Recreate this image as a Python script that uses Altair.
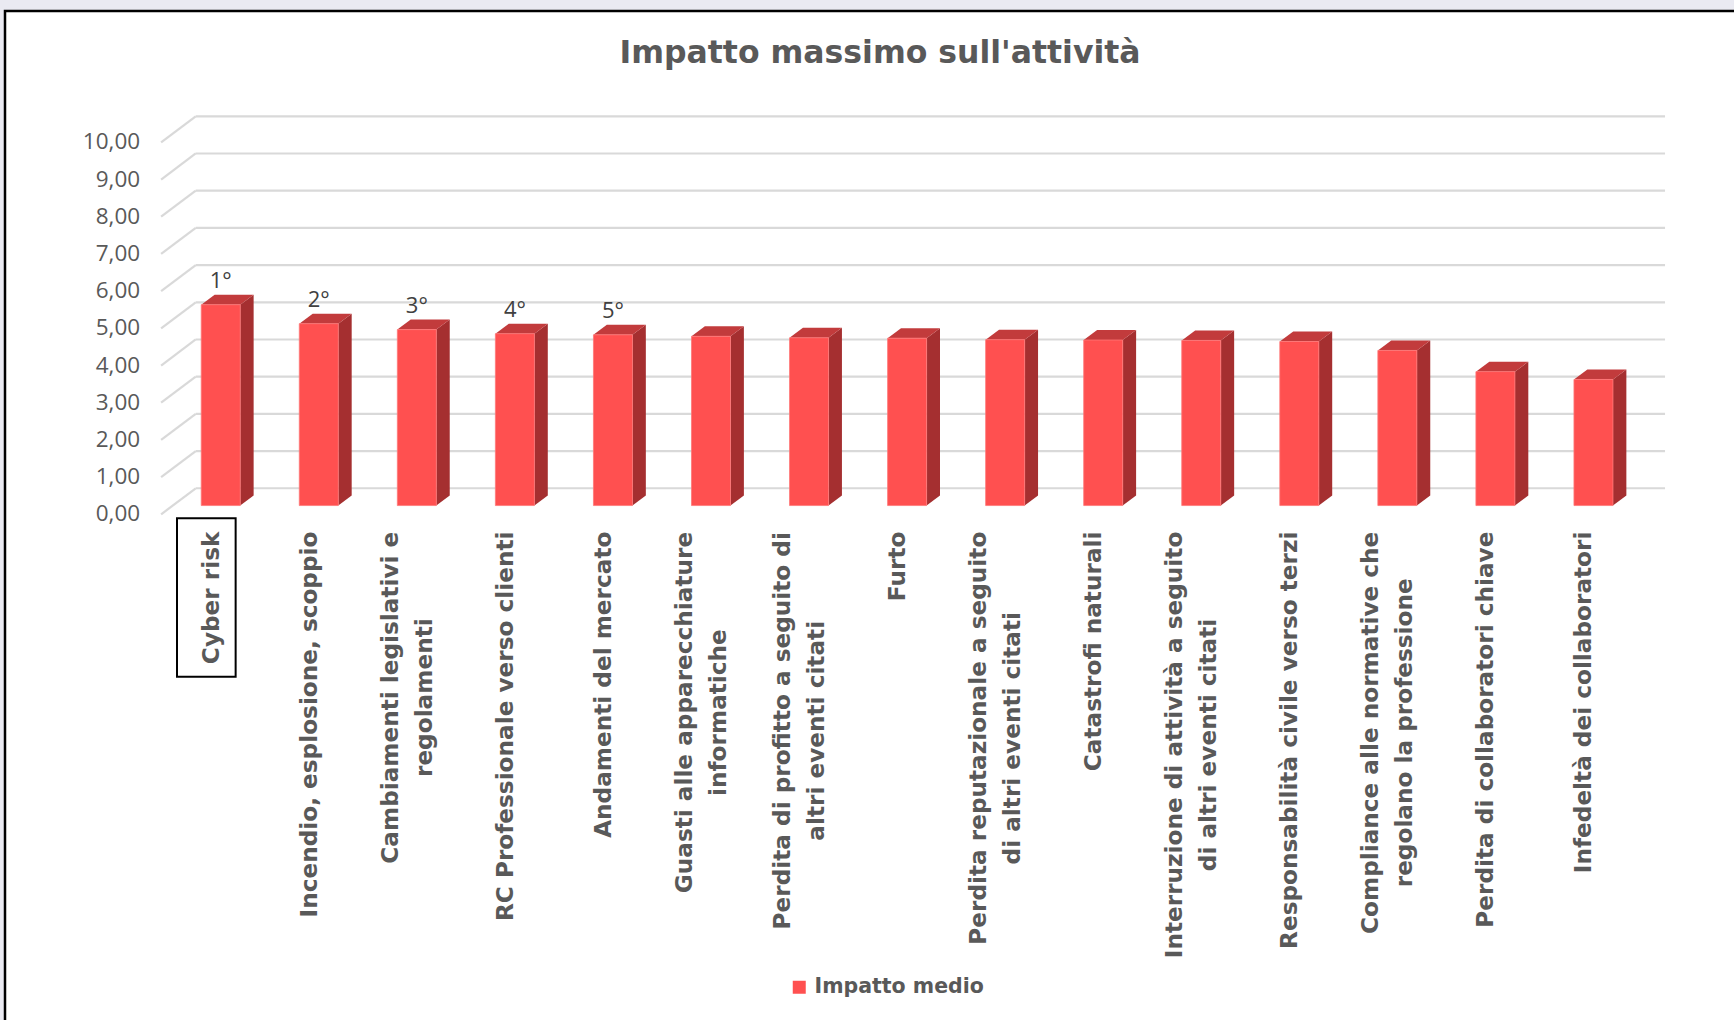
import altair as alt
import pandas as pd

# ---------------- data ----------------
categories = [
    "Cyber risk",
    "Incendio, esplosione, scoppio",
    "Cambiamenti legislativi e\nregolamenti",
    "RC Professionale verso clienti",
    "Andamenti del mercato",
    "Guasti alle apparecchiature\ninformatiche",
    "Perdita di profitto a seguito di\naltri eventi citati",
    "Furto",
    "Perdita reputazionale a seguito\ndi altri eventi citati",
    "Catastrofi naturali",
    "Interruzione di attività a seguito\ndi altri eventi citati",
    "Responsabilità civile verso terzi",
    "Compliance alle normative che\nregolano la professione",
    "Perdita di collaboratori chiave",
    "Infedeltà dei collaboratori",
]
values = [5.40, 4.89, 4.73, 4.62, 4.59, 4.55, 4.51, 4.50, 4.46, 4.45, 4.44, 4.41, 4.17, 3.60, 3.39]
ranks = ["1°", "2°", "3°", "4°", "5°"]
y_ticks = [0, 1, 2, 3, 4, 5, 6, 7, 8, 9, 10]
series_name = "Impatto medio"
title_text = "Impatto massimo sull'attività"
highlighted = "Cyber risk"

# ---------------- geometry / style ----------------
X_DOMAIN = [-0.65, 14.75]
Y_DOMAIN = [-0.2, 10.5]
W, H = 1510, 398
PADL, PADT = 157, 115
PX_X = W / (X_DOMAIN[1] - X_DOMAIN[0])
PX_Y = H / (Y_DOMAIN[1] - Y_DOMAIN[0])
HALF = 19.5 / PX_X          # half width of the bar front face
DX = 13.4 / PX_X            # 3D depth (x)
DY = 10.0 / PX_Y            # 3D depth (y)
WALL_X0, WALL_X1 = -0.255, 14.73
WALL_DY = 17.3 / PX_Y
DIAG_X, DIAG_DY = -0.608, -0.235
LABEL_TOP = -26.0 / PX_Y    # top of category labels (below the floor)
LABEL_DX = -9.0 / PX_X
YLAB_X = -0.822

FONT_B = "DejaVu Sans"
FONT_R = "Open Sans"
GREY = "#595959"
FRONT, TOP, SIDE = "#FF5050", "#C23B3C", "#A52F30"
LAB_SIZE = 23.2
LINE_H = 34

# approx advance widths of DejaVu Sans Bold (em) to centre 2-line labels
CW = {' ': .348, 'a': .675, 'b': .716, 'c': .593, 'd': .716, 'e': .678, 'f': .435, 'g': .716,
      'h': .712, 'i': .343, 'l': .343, 'm': 1.042, 'n': .712, 'o': .687, 'p': .716, 'r': .493,
      's': .595, 't': .478, 'u': .712, 'v': .652, 'z': .582, 'C': .734, 'G': .837, 'P': .733,
      'I': .372, ',': .38, 'à': .675}


def text_w(s):
    return sum(CW.get(c, .65) for c in s) * LAB_SIZE


xs = alt.Scale(domain=X_DOMAIN, nice=False, zero=False)
ys = alt.Scale(domain=Y_DOMAIN, nice=False, zero=False)


def X(f, **kw):
    return alt.X(f, type="quantitative", scale=xs, axis=None, **kw)


def Y(f, **kw):
    return alt.Y(f, type="quantitative", scale=ys, axis=None, **kw)


idx = list(range(len(categories)))
bars = pd.DataFrame({"i": idx, "cat": categories, "v": values, "serie": series_name})
bars["xl"] = bars["i"] - HALF
bars["xr"] = bars["i"] + HALF

side_rows, top_rows = [], []
for i, v in zip(idx, values):
    side_rows += [{"cat": i, "x": i + HALF, "y": 0.0, "y2": v},
                  {"cat": i, "x": i + HALF + DX, "y": DY, "y2": v + DY}]
    top_rows += [{"cat": i, "x": i - HALF, "y": v, "y2": v},
                 {"cat": i, "x": i - HALF + DX, "y": v, "y2": v + DY},
                 {"cat": i, "x": i + HALF, "y": v, "y2": v + DY},
                 {"cat": i, "x": i + HALF + DX, "y": v + DY, "y2": v + DY}]
side_df = pd.DataFrame(side_rows)
top_df = pd.DataFrame(top_rows)

grid_df = pd.DataFrame({"v": y_ticks})
grid_df["yb"] = grid_df["v"] + WALL_DY
grid_df["yf"] = grid_df["v"] + DIAG_DY
grid_df["x0"] = WALL_X0
grid_df["x1"] = WALL_X1
grid_df["xd"] = DIAG_X
grid_df["xl"] = YLAB_X
grid_df["lab"] = [f"{v:.2f}".replace(".", ",") for v in y_ticks]

rank_df = pd.DataFrame({"i": idx[:len(ranks)], "v": values[:len(ranks)], "r": ranks})

single = bars[~bars["cat"].str.contains("\n")].copy()
single["lx"] = single["i"] + LABEL_DX
single["ly"] = LABEL_TOP
multi = bars[bars["cat"].str.contains("\n")].copy()
nlines = multi["cat"].str.count("\n")
multi["lx"] = multi["i"] + LABEL_DX - nlines * LINE_H / 2 / PX_X
multi["ly"] = [LABEL_TOP - max(text_w(s) for s in c.split("\n")) / 2 / PX_Y for c in multi["cat"]]

hi = categories.index(highlighted)
box_df = pd.DataFrame({"x": [hi - 0.446], "x2": [hi + 0.152],
                       "y": [-0.341], "y2": [-4.60]})

# ---------------- layers ----------------
one = pd.DataFrame({"a": [0]})
frame = alt.Chart(one).mark_rect(
    fill="white", stroke="black", strokeWidth=2.5
).encode(x=alt.value(5 - PADL), x2=alt.value(1760 - PADL),
         y=alt.value(11 - PADT), y2=alt.value(1040 - PADT))

title = alt.Chart(pd.DataFrame({"t": [title_text]})).mark_text(
    font=FONT_B, fontSize=31.5, fontWeight="bold", color=GREY,
    align="center", baseline="alphabetic"
).encode(x=alt.value(880 - PADL), y=alt.value(63 - PADT), text="t:N")

grid = alt.Chart(grid_df).mark_rule(color="#D9D9D9", strokeWidth=2.2).encode(
    x=X("x0"), x2="x1", y=Y("yb"))
diag = alt.Chart(grid_df).mark_rule(color="#D9D9D9", strokeWidth=2.2).encode(
    x=X("xd"), x2="x0", y=Y("yf"), y2="yb")
ylab = alt.Chart(grid_df).mark_text(
    align="right", baseline="middle", font=FONT_R, fontSize=22.5, color=GREY
).encode(x=X("xl"), y=Y("yf"), text="lab:N")

side = alt.Chart(side_df).mark_area(color=SIDE, opacity=1).encode(
    x=X("x"), y=Y("y"), y2="y2", detail="cat:N")
top = alt.Chart(top_df).mark_area(color=TOP, opacity=1).encode(
    x=X("x"), y=Y("y"), y2="y2", detail="cat:N")
front = alt.Chart(bars).mark_bar(stroke="#FF7777", strokeWidth=0.8).encode(
    x=X("xl"), x2="xr", y=Y("v"), y2=alt.Y2(datum=0),
    color=alt.Color("serie:N", scale=alt.Scale(domain=[series_name], range=[FRONT]),
                    legend=alt.Legend(orient="none", legendX=632, legendY=862, title=None,
                                      symbolType="square", symbolSize=169, symbolStrokeWidth=0,
                                      labelFont=FONT_B, labelFontWeight="bold", labelFontSize=20.5,
                                      labelColor=GREY, labelOffset=5, labelLimit=0, padding=0)))

rank_txt = alt.Chart(rank_df).mark_text(
    font=FONT_R, fontSize=22, color="#404040", baseline="alphabetic", dy=-17
).encode(x=X("i"), y=Y("v"), text="r:N")

lab_single = alt.Chart(single).mark_text(
    angle=270, align="right", baseline="middle", font=FONT_B, fontWeight="bold",
    fontSize=LAB_SIZE, color=GREY
).encode(x=X("lx"), y=Y("ly"), text="cat:N")
lab_multi = alt.Chart(multi).mark_text(
    angle=270, align="center", baseline="middle", font=FONT_B, fontWeight="bold",
    fontSize=LAB_SIZE, color=GREY, lineBreak="\n", lineHeight=LINE_H
).encode(x=X("lx"), y=Y("ly"), text="cat:N")

box = alt.Chart(box_df).mark_rect(fill=None, stroke="black", strokeWidth=2).encode(
    x=X("x"), x2="x2", y=Y("y"), y2="y2")

chart = alt.layer(
    frame, title, grid, diag, ylab, side, top, front, rank_txt, lab_single, lab_multi, box
).properties(
    width=W, height=H,
    padding={"left": PADL, "top": PADT, "right": 1734 - PADL - W, "bottom": 1020 - PADT - H},
    autosize=alt.AutoSizeParams(type="none"),
    background="#EAEAF2",
).configure_view(stroke=None)

chart.save("out.html", embed_options={"renderer": "svg", "actions": False})
